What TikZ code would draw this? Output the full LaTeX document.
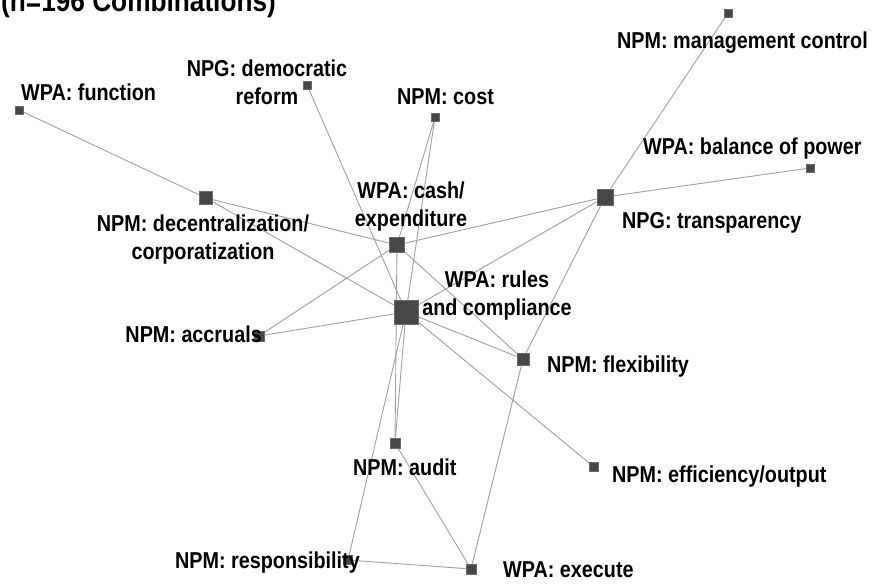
\documentclass[tikz,border=0pt]{standalone}
\usepackage{fontspec}
\setmainfont{Liberation Sans}[FakeStretch=0.86]
\usetikzlibrary{backgrounds}
\definecolor{nodefill}{HTML}{474747}
\definecolor{nodeedge}{HTML}{6A6A6A}
\definecolor{linkgray}{HTML}{A0A0A0}
\tikzset{
	termstyle/.style={rectangle, draw=nodeedge, fill=nodefill, line width=0.6bp, inner sep=0pt},
	labelstyle/.style={font=\bfseries\fontsize{23bp}{28bp}\selectfont, inner sep=0pt, text=black},
	linkstyle/.style={draw=linkgray, line width=0.9bp}
}

\begin{document}
\begin{tikzpicture}[x=1bp, y=-1bp]
	\useasboundingbox (0,0) rectangle (873,586);
	\node[font=\bfseries\fontsize{30.5bp}{34bp}\selectfont, inner sep=0pt, anchor=base west] (title) at (1,12) {(n=196 Combinations)};
	% terms
	\node[termstyle, minimum size=8] (fun) at (19,110) {};
	\node[termstyle, minimum size=8] (dem) at (307,85) {};
	\node[termstyle, minimum size=8] (cost) at (435,117) {};
	\node[termstyle, minimum size=8] (mgmt) at (728,13) {};
	\node[termstyle, minimum size=8] (bal) at (810,168) {};
	\node[termstyle, minimum size=16] (tra) at (605,197) {};
	\node[termstyle, minimum size=13] (dec) at (206,198) {};
	\node[termstyle, minimum size=15] (cash) at (397,245) {};
	\node[termstyle, minimum size=24] (rules) at (406,312) {};
	\node[termstyle, minimum size=10] (acc) at (259,336) {};
	\node[termstyle, minimum size=12] (flex) at (523,359) {};
	\node[termstyle, minimum size=10] (aud) at (395,443) {};
	\node[termstyle, minimum size=9] (eff) at (594,467) {};
	\node[termstyle, minimum size=9] (resp) at (348,560) {};
	\node[termstyle, minimum size=10] (exe) at (471,569) {};
	% links
	\begin{scope}[on background layer]
	\draw[linkstyle] (fun)--(dec);
	\draw[linkstyle] (dec)--(cash);
	\draw[linkstyle] (dec)--(rules);
	\draw[linkstyle] (dem)--(rules);
	\draw[linkstyle] (cost)--(cash);
	\draw[linkstyle] (cost)--(rules);
	\draw[linkstyle] (cash)--(tra);
	\draw[linkstyle] (cash)--(flex);
	\draw[linkstyle] (cash)--(aud);
	\draw[linkstyle] (acc)--(cash);
	\draw[linkstyle] (acc)--(rules);
	\draw[linkstyle] (rules)--(tra);
	\draw[linkstyle] (rules)--(flex);
	\draw[linkstyle] (rules)--(eff);
	\draw[linkstyle] (rules)--(aud);
	\draw[linkstyle] (rules)--(resp);
	\draw[linkstyle] (tra)--(mgmt);
	\draw[linkstyle] (tra)--(bal);
	\draw[linkstyle] (tra)--(flex);
	\draw[linkstyle] (flex)--(exe);
	\draw[linkstyle] (aud)--(exe);
	\draw[linkstyle] (resp)--(exe);
	\end{scope}
	% labels
	\node[labelstyle, anchor=base west] (funlabel) at (21,101) {WPA: function};
	\node[labelstyle, align=center, anchor=base] (demlabel) at (267,105) {NPG: democratic\\reform};
	\node[labelstyle, anchor=base west] (costlabel) at (397,105) {NPM: cost};
	\node[labelstyle, anchor=base west] (mgmtlabel) at (617,49) {NPM: management control};
	\node[labelstyle, anchor=base west] (ballabel) at (643,155) {WPA: balance of power};
	\node[labelstyle, anchor=base west] (tralabel) at (622,229) {NPG: transparency};
	\node[labelstyle, align=center, anchor=base] (declabel) at (203,260) {NPM: decentralization/\\corporatization};
	\node[labelstyle, align=center, anchor=base] (cashlabel) at (411,227) {WPA: cash/\\expenditure};
	\node[labelstyle, align=center, anchor=base] (ruleslabel) at (497,315) {WPA: rules\\and compliance};
	\node[labelstyle, anchor=base east] (acclabel) at (262,342) {NPM: accruals};
	\node[labelstyle, anchor=base west] (flexlabel) at (547,372) {NPM: flexibility};
	\node[labelstyle, anchor=base west] (audlabel) at (353,475) {NPM: audit};
	\node[labelstyle, anchor=base west] (efflabel) at (612,482) {NPM: efficiency/output};
	\node[labelstyle, anchor=base east] (resplabel) at (360,568) {NPM: responsibility};
	\node[labelstyle, anchor=base west] (exelabel) at (503,577) {WPA: execute};
\end{tikzpicture}
\end{document}
